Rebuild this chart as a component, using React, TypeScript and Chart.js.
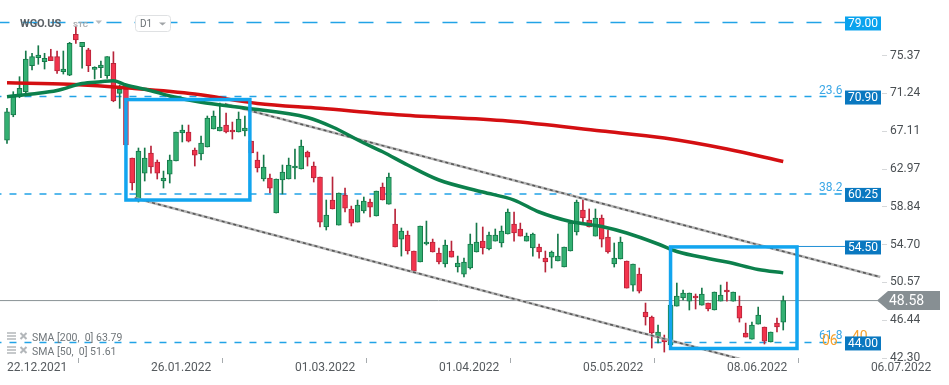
import React, { useEffect, useRef } from 'react';
import { Chart, registerables } from 'chart.js';

Chart.register(...registerables);

// ---------- data ----------
const tickIndices = [0, 23, 46, 69, 92, 115, 138];
const tickDates = ['22.12.2021', '26.01.2022', '01.03.2022', '01.04.2022', '05.05.2022', '08.06.2022', '06.07.2022'];
const yTicks = [42.3, 46.44, 50.57, 54.7, 58.84, 62.97, 67.11, 71.24, 75.37];

const opens = [66.14, 68.88, 70.88, 71.43, 74.27, 75.15, 74.71, 75.26, 75.26, 73.62,
  73.25, 77.71, 76.35, 76.0, 73.88, 74.05, 73.18, 74.53, 71.25, 71.72,
  64.17, 59.58, 62.53, 64.72, 63.74, 61.66, 62.42, 63.85, 66.91, 67.02,
  65.05, 64.61, 65.38, 67.35, 67.13, 67.78, 67.24, 67.02, 67.13, 66.03,
  63.96, 61.88, 61.99, 58.16, 61.77, 61.88, 63.08, 62.97, 64.83, 63.3,
  62.1, 56.63, 59.58, 56.84, 60.13, 58.6, 57.17, 58.38, 59.36, 57.83,
  61.0, 59.14, 56.95, 55.31, 55.75, 54.0, 52.8, 54.77, 54.99, 53.78,
  52.58, 54.0, 52.25, 51.48, 52.14, 53.89, 55.09, 54.22, 55.09, 54.88,
  55.86, 56.95, 56.41, 55.09, 54.33, 54.44, 53.23, 53.34, 52.91, 52.25,
  54.0, 56.08, 58.49, 57.39, 55.64, 57.61, 55.53, 52.58, 53.13, 52.91,
  50.28, 51.48, 47.33, 46.78, 44.59, 44.37, 43.72, 47.98, 48.86, 48.53,
  49.08, 48.09, 48.31, 47.55, 48.53, 49.73, 48.53, 47.98, 45.03, 44.37,
  46.01, 45.69, 44.05, 46.12, 46.23];
const highs = [69.61, 71.43, 73.07, 75.88, 75.63, 76.46, 75.63, 76.07, 75.88, 75.88,
  76.83, 78.62, 76.83, 76.18, 74.16, 74.79, 75.26, 75.8, 72.16, 71.83,
  64.17, 65.27, 65.27, 65.49, 63.96, 62.75, 64.5, 67.02, 67.78, 67.78,
  65.27, 66.58, 68.77, 69.32, 70.19, 69.1, 68.11, 69.21, 68.77, 66.03,
  64.83, 64.5, 62.42, 61.88, 63.41, 64.17, 65.16, 66.14, 64.94, 63.74,
  62.1, 59.58, 62.1, 60.35, 60.89, 58.92, 59.58, 59.91, 59.69, 60.56,
  61.44, 62.53, 58.6, 56.52, 56.19, 54.0, 56.74, 57.28, 55.31, 54.33,
  55.2, 55.09, 53.45, 53.23, 55.86, 57.06, 56.63, 56.08, 56.41, 56.74,
  58.6, 58.27, 57.06, 55.97, 55.97, 54.77, 54.0, 54.0, 55.86, 54.44,
  57.06, 59.58, 59.8, 58.6, 58.6, 57.94, 56.3, 54.88, 55.53, 52.91,
  52.58, 52.14, 48.31, 46.89, 45.9, 44.81, 48.31, 50.5, 49.73, 49.41,
  49.3, 49.95, 48.31, 49.52, 50.28, 50.61, 49.52, 49.08, 46.12, 46.23,
  47.87, 45.69, 45.14, 46.67, 49.08];
const lows = [65.78, 68.69, 70.77, 71.25, 73.8, 74.43, 73.91, 74.82, 73.44, 73.36,
  73.18, 76.72, 73.99, 73.62, 72.82, 72.96, 72.89, 70.33, 69.61, 65.6,
  60.67, 59.36, 61.66, 62.53, 61.88, 60.89, 61.44, 63.85, 65.93, 65.93,
  63.3, 63.96, 65.38, 67.35, 67.13, 66.91, 66.25, 67.02, 66.58, 64.72,
  62.64, 61.66, 60.35, 58.16, 60.24, 61.88, 61.88, 62.97, 63.3, 61.55,
  56.63, 56.3, 58.6, 56.84, 58.27, 56.74, 57.17, 58.16, 57.72, 57.83,
  59.58, 59.14, 54.44, 53.45, 53.67, 51.81, 52.8, 54.66, 53.89, 52.58,
  52.25, 53.34, 51.7, 51.16, 52.03, 53.89, 53.67, 54.11, 55.09, 54.44,
  55.86, 55.09, 55.64, 55.09, 53.45, 53.23, 51.7, 52.14, 52.91, 52.25,
  54.0, 55.75, 57.06, 56.63, 55.64, 54.44, 53.78, 52.25, 53.13, 49.95,
  49.62, 49.41, 45.9, 43.39, 43.94, 42.95, 43.39, 47.98, 48.64, 47.55,
  47.66, 48.09, 47.44, 47.55, 48.53, 48.53, 48.53, 46.23, 44.59, 44.37,
  46.01, 43.83, 44.05, 45.14, 45.36];
const closes = [69.24, 70.88, 71.8, 75.01, 75.26, 75.44, 75.08, 74.82, 73.69, 73.91,
  76.72, 77.08, 76.83, 74.27, 74.1, 74.35, 75.26, 70.41, 71.69, 65.6,
  61.44, 64.94, 64.17, 63.19, 62.53, 61.99, 63.96, 67.02, 67.24, 66.03,
  64.5, 65.82, 68.55, 68.77, 67.57, 67.02, 67.02, 68.44, 67.46, 64.72,
  63.08, 63.19, 60.89, 61.88, 62.64, 63.41, 63.3, 65.49, 64.28, 61.99,
  57.17, 57.94, 58.6, 60.35, 58.7, 57.06, 59.03, 59.47, 58.81, 60.56,
  59.58, 62.1, 54.44, 56.19, 54.0, 51.81, 56.74, 54.99, 53.89, 52.8,
  54.66, 53.34, 52.69, 52.8, 54.77, 54.99, 54.33, 55.75, 55.75, 56.19,
  58.27, 55.97, 55.64, 55.64, 55.86, 53.89, 52.8, 53.89, 53.45, 54.44,
  57.06, 59.36, 57.61, 56.63, 57.61, 55.31, 53.89, 53.23, 54.99, 49.95,
  52.58, 49.62, 46.78, 45.03, 45.14, 44.05, 48.09, 49.08, 49.41, 49.41,
  48.86, 49.3, 47.66, 49.52, 49.19, 49.52, 49.52, 46.67, 44.59, 45.9,
  47.0, 44.15, 45.14, 45.69, 48.58];

const sma200Idx = [0, 10, 20, 30, 40, 50, 63, 80, 95, 105, 115, 124];
const sma200Val = [72.41, 72.24, 71.8, 71.18, 70.14, 69.61, 68.88, 68.22, 67.13, 66.36, 65.16, 63.79];
const sma50Idx = [0, 4, 8, 12, 15, 17, 19, 23, 26, 31, 38, 48, 52, 57, 60, 64, 69, 76, 81, 85, 90, 95, 99, 104, 107, 112, 115, 120, 124];
const sma50Val = [70.88, 71.18, 71.56, 72.33, 72.52, 72.63, 72.16, 71.54, 70.96, 70.27, 69.65, 68.61, 67.57, 65.82, 64.86, 63.41, 61.77, 60.46, 59.58, 58.27, 57.23, 56.68, 55.97, 54.77, 53.95, 53.18, 52.8, 51.98, 51.61];

const fibLevels = [79.0, 70.9, 60.25, 44.0];
const fibTexts = ['', '23.6', '38.2', '61.8'];
const resistance = 54.5;
const lastPrice = 48.58;

const upperChannelX = [34.8, 139.5];
const upperChannelY = [70.08, 51.16];
const lowerChannelX = [20.4, 117.1];
const lowerChannelY = [59.8, 42.19];

const boxesX = [[19.0, 38.8], [106.0, 126.2]];
const boxesY = [[70.57, 59.58], [54.45, 43.34]];

const lineEndIdx = 133.9;
const priceLineEndIdx = 139.1;

// ---------- chart ----------
const overlay = {
  id: 'overlay',
  afterDatasetsDraw(chart: any) {
    const { ctx, scales } = chart;
    const x = scales.x;
    const y = scales.y;
    const px = (v: number) => x.getPixelForValue(v);
    const py = (v: number) => y.getPixelForValue(v);
    ctx.save();

    // fib labels
    ctx.font = '12px Roboto';
    ctx.textAlign = 'left';
    ctx.textBaseline = 'alphabetic';
    ctx.fillStyle = '#3ba7e6';
    fibLevels.forEach((lvl, i) => {
      if (fibTexts[i]) ctx.fillText(fibTexts[i], 819, py(lvl) - 3);
    });
    ctx.fillStyle = '#f7a12c';
    ctx.font = '14px Roboto';
    ctx.fillText('06', 822, py(44.0) + 3);
    ctx.fillText('40', 852, py(44.0) - 1);

    // blue boxes
    ctx.strokeStyle = '#12a5ef';
    ctx.lineWidth = 3.5;
    boxesX.forEach((bx, i) => {
      const by = boxesY[i];
      ctx.strokeRect(px(bx[0]), py(by[0]), px(bx[1]) - px(bx[0]), py(by[1]) - py(by[0]));
    });

    // price tags
    const tags = [...fibLevels, resistance];
    tags.forEach((lvl) => {
      const yy = py(lvl) + 1;
      ctx.fillStyle = lvl === 79.0 ? '#0aa3ee' : '#0a78c0';
      ctx.fillRect(845, yy - 7, 36, 14);
      ctx.fillStyle = '#ffffff';
      ctx.font = '12px Roboto';
      ctx.textAlign = 'center';
      ctx.textBaseline = 'middle';
      ctx.fillText(lvl.toFixed(2), 863, yy + 0.5);
    });

    // last price tag
    const yp = py(lastPrice);
    ctx.fillStyle = '#878f93';
    ctx.beginPath();
    ctx.moveTo(877, yp);
    ctx.lineTo(888, yp - 9.5);
    ctx.lineTo(940, yp - 9.5);
    ctx.lineTo(940, yp + 9.5);
    ctx.lineTo(888, yp + 9.5);
    ctx.closePath();
    ctx.fill();
    ctx.fillStyle = '#ffffff';
    ctx.font = '14px Roboto';
    ctx.textAlign = 'left';
    ctx.textBaseline = 'middle';
    ctx.fillText(lastPrice.toFixed(2), 889, yp + 1);

    // header
    ctx.textBaseline = 'alphabetic';
    ctx.textAlign = 'left';
    ctx.font = 'bold 11px Roboto';
    ctx.fillStyle = '#5b6166';
    ctx.fillText('WGO.US', 20, 27);
    ctx.font = 'bold 8px Roboto';
    ctx.fillStyle = '#a9adb0';
    ctx.fillText('STC', 73, 27);
    ctx.fillStyle = '#b8bcbf';
    ctx.beginPath();
    ctx.moveTo(95.5, 20.5); ctx.lineTo(102, 20.5); ctx.lineTo(98.75, 24); ctx.closePath(); ctx.fill();
    ctx.fillStyle = '#ffffff';
    ctx.strokeStyle = '#dfe1e3';
    ctx.lineWidth = 1;
    ctx.beginPath();
    ctx.roundRect(135.5, 15.5, 35, 16, 3);
    ctx.fill();
    ctx.stroke();
    ctx.fillStyle = '#6b7175';
    ctx.font = '10px Roboto';
    ctx.fillText('D1', 140, 27);
    ctx.fillStyle = '#a0a4a7';
    ctx.beginPath();
    ctx.moveTo(159, 22.5); ctx.lineTo(166, 22.5); ctx.lineTo(162.5, 25.5); ctx.closePath(); ctx.fill();

    // legend
    const legend = [
      { text: 'SMA [200,  0] ' + sma200Val[sma200Val.length - 1].toFixed(2), y: 338 },
      { text: 'SMA [50,  0] ' + sma50Val[sma50Val.length - 1].toFixed(2), y: 352 },
    ];
    legend.forEach((l) => {
      ctx.strokeStyle = '#b3b7ba';
      ctx.lineWidth = 1.5;
      for (let k = 0; k < 3; k++) {
        ctx.beginPath();
        ctx.moveTo(7, l.y - 5 + k * 3);
        ctx.lineTo(16, l.y - 5 + k * 3);
        ctx.stroke();
      }
      ctx.lineWidth = 2;
      ctx.beginPath();
      ctx.moveTo(20.5, l.y - 5); ctx.lineTo(26.5, l.y + 1);
      ctx.moveTo(26.5, l.y - 5); ctx.lineTo(20.5, l.y + 1);
      ctx.stroke();
      ctx.fillStyle = '#70767a';
      ctx.font = '10.5px Roboto';
      ctx.textBaseline = 'middle';
      ctx.fillText(l.text, 32, l.y);
    });

    ctx.restore();
  },
};

export default function App() {
  const ref = useRef<HTMLCanvasElement | null>(null);

  useEffect(() => {
    document.body.style.margin = '0';
    const canvas = ref.current;
    if (!canvas) return;
    const idx = opens.map((_, i) => i);
    const up = idx.map((i) => closes[i] >= opens[i]);
    const bodyFill = up.map((u) => (u ? '#33b072' : '#f2334c'));
    const bodyBorder = up.map((u) => (u ? '#16794a' : '#b8243a'));

    const datasets: any[] = [];
    fibLevels.forEach((lvl) => {
      datasets.push({
        type: 'line',
        data: [{ x: -2, y: lvl }, { x: lineEndIdx, y: lvl }],
        borderColor: '#22a3e6',
        borderWidth: 1.5,
        borderDash: lvl === 79.0 ? [15, 13] : [7, 8],
        pointRadius: 0,
        order: 20,
      });
    });
    datasets.push({
      type: 'line',
      data: [{ x: -2, y: lastPrice }, { x: priceLineEndIdx, y: lastPrice }],
      borderColor: '#8a9296',
      borderWidth: 1,
      pointRadius: 0,
      order: 19,
    });
    datasets.push({
      type: 'line',
      data: [{ x: boxesX[1][1], y: resistance }, { x: lineEndIdx, y: resistance }],
      borderColor: '#1f8fd6',
      borderWidth: 1,
      pointRadius: 0,
      order: 19,
    });
    datasets.push({
      type: 'bar',
      data: idx.map((i) => ({ x: i, y: [lows[i], highs[i]] })),
      backgroundColor: bodyBorder,
      maxBarThickness: 1,
      barPercentage: 1,
      categoryPercentage: 1,
      grouped: false,
      order: 15,
    });
    datasets.push({
      type: 'bar',
      data: idx.map((i) => ({ x: i, y: [opens[i], closes[i]] })),
      backgroundColor: bodyFill,
      borderColor: bodyBorder,
      borderWidth: 1,
      borderSkipped: false,
      maxBarThickness: 5,
      barPercentage: 1,
      categoryPercentage: 1,
      minBarLength: 2,
      grouped: false,
      order: 14,
    });
    [[upperChannelX, upperChannelY], [lowerChannelX, lowerChannelY]].forEach(([cx, cy]) => {
      const pts = cx.map((v, k) => ({ x: v, y: cy[k] }));
      datasets.push({ type: 'line', data: pts, borderColor: '#b4b4b4', borderWidth: 2.5, pointRadius: 0, order: 12 });
      datasets.push({ type: 'line', data: pts, borderColor: '#555555', borderWidth: 1.5, borderDash: [3, 3], pointRadius: 0, order: 11 });
    });
    datasets.push({
      type: 'line',
      data: sma200Idx.map((v, k) => ({ x: v, y: sma200Val[k] })),
      borderColor: '#d40f12',
      borderWidth: 3.5,
      pointRadius: 0,
      cubicInterpolationMode: 'monotone',
      order: 6,
    });
    datasets.push({
      type: 'line',
      data: sma50Idx.map((v, k) => ({ x: v, y: sma50Val[k] })),
      borderColor: '#0c804c',
      borderWidth: 3.5,
      pointRadius: 0,
      cubicInterpolationMode: 'monotone',
      order: 5,
    });

    const chart = new Chart(canvas, {
      type: 'line',
      data: { datasets },
      options: {
        animation: false,
        responsive: false,
        maintainAspectRatio: false,
        events: [],
        layout: { padding: 0 },
        plugins: { legend: { display: false }, tooltip: { enabled: false } },
        scales: {
          x: {
            type: 'linear',
            min: -1.118,
            max: 139.777,
            offset: false,
            border: { display: false },
            grid: { drawOnChartArea: false, drawTicks: true, tickLength: 5, color: '#a6abae' },
            ticks: {
              autoSkip: false,
              maxRotation: 0,
              minRotation: 0,
              align: 'start',
              padding: -2,
              color: '#555a5e',
              font: { family: 'Roboto', size: 12 },
              callback: (v: any) => {
                const k = tickIndices.indexOf(Number(v));
                return k >= 0 ? tickDates[k] : '';
              },
            },
            afterBuildTicks: (s: any) => {
              s.ticks = tickIndices.map((v) => ({ value: v }));
            },
            afterFit: (s: any) => {
              s.height = 27;
              s.paddingLeft = 0;
              s.paddingRight = 0;
              s.paddingTop = 0;
              s.paddingBottom = 0;
            },
          },
          y: {
            type: 'linear',
            position: 'right',
            min: 42.3,
            max: 81.46,
            border: { display: false },
            grid: { drawOnChartArea: false, drawTicks: true, tickLength: 5, color: '#d6d8da' },
            ticks: {
              padding: 3,
              crossAlign: 'near',
              color: '#4a4f53',
              font: { family: 'Roboto', size: 12 },
              callback: (v: any) => Number(v).toFixed(2),
            },
            afterBuildTicks: (s: any) => {
              s.ticks = yTicks.map((v) => ({ value: v }));
            },
            afterFit: (s: any) => {
              s.width = 67;
              s.paddingLeft = 0;
              s.paddingRight = 0;
              s.paddingTop = 0;
              s.paddingBottom = 0;
            },
          },
        },
      } as any,
      plugins: [overlay],
    });
    return () => chart.destroy();
  }, []);

  return (
    <div style={{ width: 949, height: 385, background: '#ffffff' }}>
      <canvas ref={ref} width={949} height={385} style={{ display: 'block' }} />
    </div>
  );
}
